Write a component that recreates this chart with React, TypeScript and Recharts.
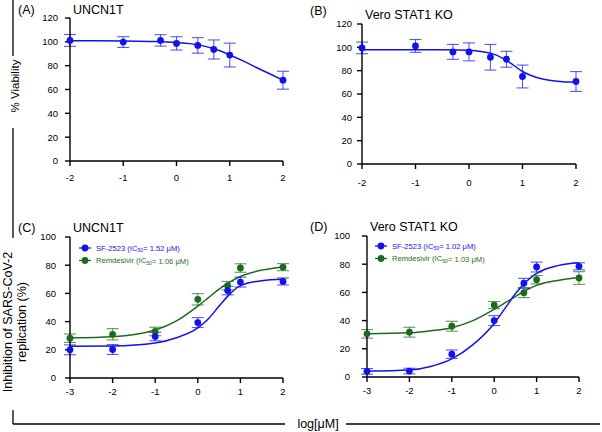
import React from 'react';
import { ComposedChart, Line, Scatter, ErrorBar, XAxis, YAxis } from 'recharts';

// ---------- DATA ----------
const viabilityX = [-2, -1, -0.3, 0, 0.4, 0.7, 1, 2];
const viabilityTicksX = [-2, -1, 0, 1, 2];
const viabilityTicksY = [0, 20, 40, 60, 80, 100, 120];

const aVals = [101.2, 99.8, 101.2, 98.7, 97, 93.6, 88.9, 67.8];
const aErr = [5, 4.5, 4.8, 5.6, 6.5, 8, 10, 7.5];
const aCurveX = [-2, -1.5, -1, -0.5, 0, 0.25, 0.5, 0.75, 1, 1.25, 1.5, 1.75, 2];
const aCurveY = [101, 101, 100.8, 100.3, 99.4, 98.5, 96.6, 93.5, 89, 84, 78.5, 73.2, 67.8];

const bVals = [99.5, 101.2, 96.1, 96.1, 91.5, 89.8, 75, 70.7];
const bErr = [5, 5.5, 6.4, 7.7, 11, 6.8, 9.8, 8.5];
const bCurveX = [-2, -1, -0.5, 0, 0.25, 0.5, 0.75, 1, 1.25, 1.5, 1.75, 2];
const bCurveY = [98, 98, 97.9, 97.5, 96.3, 93.5, 87.3, 79.3, 74.3, 71.8, 70.6, 70.2];

const inhibX = [-3, -2, -1, 0, 0.7, 1, 2];
const inhibTicksX = [-3, -2, -1, 0, 1, 2];
const inhibTicksY = [0, 20, 40, 60, 80, 100];

const cSfVals = [20, 20.2, 29.4, 39.3, 62, 68, 68.5];
const cSfErr = [3.5, 3.5, 3, 3.5, 3, 3.5, 2.5];
const cRemVals = [28.2, 31, 33, 55.8, 65.5, 78, 78.6];
const cRemErr = [3, 4, 3, 4, 3, 3, 2.5];
const cCurveX = [-3, -2, -1, -0.5, 0, 0.25, 0.5, 0.75, 1, 1.5, 2];
const cSfCurveY = [22.5, 22.7, 24.8, 28.5, 35.5, 42, 51, 59.5, 65.5, 69, 70];
const cRemCurveY = [28.5, 29.3, 34, 40.5, 51, 57, 63, 68, 72, 76.5, 78.8];

const dSfVals = [4, 4.2, 16.2, 40, 66.5, 78, 78.5];
const dSfErr = [2, 2, 3, 3.5, 3.5, 3.5, 2.5];
const dRemVals = [30.6, 31.8, 36, 51, 59.8, 69, 70.2];
const dRemErr = [3, 3.5, 3.5, 2.5, 3.5, 3, 4.5];
const dCurveX = [-3, -2, -1.5, -1, -0.5, 0, 0.25, 0.5, 0.75, 1, 1.5, 2];
const dSfCurveY = [4.2, 5, 7.5, 12.8, 23, 38, 48.5, 59, 67.5, 73.5, 79, 81];
const dRemCurveY = [30.6, 31.3, 32.8, 35, 40, 48, 52.5, 57, 61.5, 65, 68.5, 70.5];

const seriesNames = ['SF-2523', 'Remdesivir'];
const cIC50 = ['1.52', '1.06'];
const dIC50 = ['1.02', '1.03'];
const panelLetters = ['(A)', '(B)', '(C)', '(D)'];
const panelTitles = ['UNCN1T', 'Vero STAT1 KO', 'UNCN1T', 'Vero STAT1 KO'];

// ---------- STYLE ----------
const BLUE = '#1212ec';
const GREEN = '#1c6b1c';
const FONT = 'Arial, "Liberation Sans", Helvetica, sans-serif';
const W = 602;
const H = 432;
const YW = 40;
const XH = 24;

const zip = (xs: number[], ys: number[], es?: number[]) =>
  xs.map((x, i) => (es ? { x, y: ys[i], e: es[i] } : { x, y: ys[i] }));

type Series = { color: string; pts: any[]; curve: any[] };

function Panel(props: {
  l: number; r: number; t: number; b: number;
  xDomain: number[]; xTicks: number[]; yDomain: number[]; yTicks: number[];
  xTickMargin: number; yTickMargin: number; series: Series[];
}) {
  const { l, r, t, b, xDomain, xTicks, yDomain, yTicks, xTickMargin, yTickMargin, series } = props;
  const tickStyle = { fontSize: 9.5, fill: '#000', fontFamily: FONT };
  return (
    <div style={{ position: 'absolute', left: 0, top: 0, width: W, height: H }}>
      <ComposedChart
        width={W}
        height={H}
        margin={{ left: l - YW, right: W - r, top: t, bottom: H - b - XH }}
      >
        <XAxis
          type="number"
          dataKey="x"
          domain={xDomain}
          ticks={xTicks}
          height={XH}
          tick={tickStyle}
          tickSize={5}
          tickMargin={xTickMargin}
          axisLine={{ stroke: '#000', strokeWidth: 1.4 }}
          tickLine={{ stroke: '#000', strokeWidth: 1.4 }}
          interval={0}
        />
        <YAxis
          type="number"
          domain={yDomain}
          ticks={yTicks}
          width={YW}
          tick={tickStyle}
          tickSize={5}
          tickMargin={yTickMargin}
          axisLine={{ stroke: '#000', strokeWidth: 1.4 }}
          tickLine={{ stroke: '#000', strokeWidth: 1.4 }}
          interval={0}
        />
        {series.map((s, i) => (
          <Line
            key={'l' + i}
            data={s.curve}
            dataKey="y"
            type="monotone"
            stroke={s.color}
            strokeWidth={1.5}
            dot={false}
            activeDot={false}
            isAnimationActive={false}
          />
        ))}
        {series.map((s, i) => (
          <Scatter
            key={'s' + i}
            data={s.pts}
            dataKey="y"
            fill={s.color}
            isAnimationActive={false}
            shape={(p: any) => <circle cx={p.cx} cy={p.cy} r={3.4} fill={s.color} />}
          >
            <ErrorBar dataKey="e" direction="y" width={6} stroke={s.color} strokeOpacity={0.7} strokeWidth={1.1} />
          </Scatter>
        ))}
      </ComposedChart>
    </div>
  );
}

function Legend({ x, y, ic }: { x: number; y: number; ic: string[] }) {
  const colors = [BLUE, GREEN];
  return (
    <g>
      {seriesNames.map((n, i) => {
        const yy = y + i * 12.5;
        return (
          <g key={n}>
            <line x1={x - 6} x2={x + 6} y1={yy} y2={yy} stroke={colors[i]} strokeWidth={1.3} />
            <circle cx={x} cy={yy} r={3.4} fill={colors[i]} />
            <text x={x + 11} y={yy} dominantBaseline="central" fontSize={7.6} fill={colors[i]} fontFamily={FONT}>
              {n} (IC
              <tspan fontSize={5.2} dy={2}>50</tspan>
              <tspan dy={-2}>= {ic[i]} μM)</tspan>
            </text>
          </g>
        );
      })}
    </g>
  );
}

export default function App() {
  const tStyle = { fontSize: 12.5, fontFamily: FONT, fill: '#000' } as any;
  return (
    <div style={{ position: 'absolute', left: 0, top: 0, width: W, height: H, background: '#fff', overflow: 'hidden' }}>
      <Panel
        l={70} r={283} t={18} b={161}
        xDomain={[-2, 2]} xTicks={viabilityTicksX} yDomain={[0, 120]} yTicks={viabilityTicksY}
        xTickMargin={8} yTickMargin={7}
        series={[{ color: BLUE, pts: zip(viabilityX, aVals, aErr), curve: zip(aCurveX, aCurveY) }]}
      />
      <Panel
        l={362} r={576} t={24} b={164}
        xDomain={[-2, 2]} xTicks={viabilityTicksX} yDomain={[0, 120]} yTicks={viabilityTicksY}
        xTickMargin={10} yTickMargin={5}
        series={[{ color: BLUE, pts: zip(viabilityX, bVals, bErr), curve: zip(bCurveX, bCurveY) }]}
      />
      <Panel
        l={70} r={283} t={237} b={378}
        xDomain={[-3, 2]} xTicks={inhibTicksX} yDomain={[0, 100]} yTicks={inhibTicksY}
        xTickMargin={5} yTickMargin={9}
        series={[
          { color: GREEN, pts: zip(inhibX, cRemVals, cRemErr), curve: zip(cCurveX, cRemCurveY) },
          { color: BLUE, pts: zip(inhibX, cSfVals, cSfErr), curve: zip(cCurveX, cSfCurveY) },
        ]}
      />
      <Panel
        l={367} r={579} t={236} b={377}
        xDomain={[-3, 2]} xTicks={inhibTicksX} yDomain={[0, 100]} yTicks={inhibTicksY}
        xTickMargin={5} yTickMargin={12}
        series={[
          { color: GREEN, pts: zip(inhibX, dRemVals, dRemErr), curve: zip(dCurveX, dRemCurveY) },
          { color: BLUE, pts: zip(inhibX, dSfVals, dSfErr), curve: zip(dCurveX, dSfCurveY) },
        ]}
      />
      <svg width={W} height={H} style={{ position: 'absolute', left: 0, top: 0, pointerEvents: 'none' }}>
        <text x={18} y={10} dominantBaseline="central" {...tStyle}>{panelLetters[0]}</text>
        <text x={73} y={10} dominantBaseline="central" {...tStyle}>{panelTitles[0]}</text>
        <text x={310} y={11} dominantBaseline="central" {...tStyle}>{panelLetters[1]}</text>
        <text x={365} y={15} dominantBaseline="central" {...tStyle}>{panelTitles[1]}</text>
        <text x={18} y={228} dominantBaseline="central" {...tStyle}>{panelLetters[2]}</text>
        <text x={73} y={228} dominantBaseline="central" {...tStyle}>{panelTitles[2]}</text>
        <text x={310} y={227} dominantBaseline="central" {...tStyle}>{panelLetters[3]}</text>
        <text x={370} y={227} dominantBaseline="central" {...tStyle}>{panelTitles[3]}</text>

        <line x1={13} x2={13} y1={0} y2={56} stroke="#000" strokeWidth={1.3} />
        <line x1={13} x2={13} y1={128} y2={238} stroke="#000" strokeWidth={1.3} />
        <line x1={13} x2={13} y1={410} y2={424} stroke="#000" strokeWidth={1.3} />
        <line x1={13} x2={285} y1={424} y2={424} stroke="#000" strokeWidth={1.3} />
        <line x1={346} x2={600} y1={424} y2={424} stroke="#000" strokeWidth={1.3} />

        <text x={0} y={0} transform="translate(15,86) rotate(-90)" textAnchor="middle" dominantBaseline="central" fontSize={11.5} fontFamily={FONT}>% Viability</text>
        <text x={0} y={0} transform="translate(8,322) rotate(-90)" textAnchor="middle" dominantBaseline="central" fontSize={12.5} fontFamily={FONT}>Inhibition of SARS-CoV-2</text>
        <text x={0} y={0} transform="translate(22,322) rotate(-90)" textAnchor="middle" dominantBaseline="central" fontSize={12.5} fontFamily={FONT}>replication (%)</text>

        <text x={318} y={424} textAnchor="middle" dominantBaseline="central" fontSize={12.5} fontFamily={FONT}>log[μM]</text>

        <Legend x={85} y={248} ic={cIC50} />
        <Legend x={381} y={246} ic={dIC50} />
      </svg>
    </div>
  );
}
